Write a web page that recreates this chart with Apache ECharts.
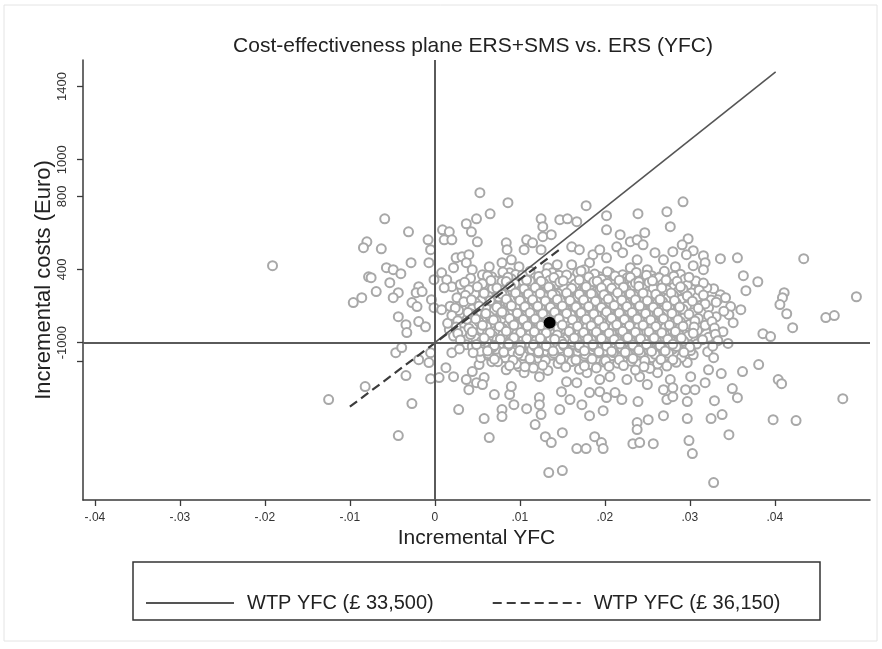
<!DOCTYPE html>
<html>
<head>
<meta charset="utf-8">
<script src="https://cdn.jsdelivr.net/npm/echarts@6/dist/echarts.min.js"></script>
<style>
  html, body { margin: 0; padding: 0; background: #fff; }
  #chart { width: 882px; height: 649px; }
</style>
</head>
<body>
<div id="chart"></div>
<script>
// Bootstrap replicates (incremental YFC, incremental cost in Euro), outer spread
const outerReplicates = [
  [.0053,820],[.0065,704],[-.0059,677],[-.0031,606],[.0037,650],[.0049,677],[.0043,606],[.0050,551],
  [.0009,617],[.0017,606],[.0011,562],[.0020,562],[-.0008,562],[-.0005,508],[-.0080,551],[-.0084,519],
  [-.0063,513],[.0025,464],[.0032,470],[.0040,481],[.0037,437],[.0044,399],[.0022,410],[.0064,415],
  [.0067,360],[.0056,371],[-.0028,437],[-.0007,437],[-.0057,410],[-.0049,399],[-.0040,377],[-.0078,360],
  [-.0075,355],[-.0053,328],[-.0001,344],[.0008,382],[.0014,344],[.0020,306],[.0011,300],[-.0019,306],
  [-.0022,273],[-.0015,279],[-.0069,279],[-.0043,273],[-.0049,246],[-.0086,246],[-.0096,219],[-.0027,219],
  [-.0021,197],[-.0004,235],[-.0001,191],[.0032,290],[.0037,235],[.0049,197],[.0067,290],[.0072,219],
  [-.0043,142],[-.0034,98],[-.0019,115],[-.0033,55],[-.0011,87],[.0008,180],[.0022,126],[.0017,71],
  [-.0191,421],
  [.0086,765],[.0178,749],[.0125,677],[.0127,634],[.0147,672],[.0156,677],[.0167,661],[.0202,694],
  [.0202,617],[.0239,705],[.0273,716],[.0277,634],[.0084,546],[.0085,508],[.0108,562],[.0115,546],
  [.0127,579],[.0137,590],[.0105,508],[.0125,508],[.0161,524],[.0170,508],[.0186,481],[.0218,590],
  [.0230,552],[.0238,562],[.0247,601],[.0245,535],[.0214,524],[.0221,492],[.0202,464],[.0194,508],
  [.0259,492],[.0269,453],[.0280,497],[.0283,415],[.0238,453],[.0250,399],[.0230,410],[.0182,437],
  [.0176,399],[.0161,426],[.0168,382],[.0079,437],[.0090,453],[.0099,415],[.0088,382],[.0079,344],
  [.0133,410],[.0144,426],[.0138,382],[.0123,360],[.0150,360],[.0194,360],[.0206,382],[.0218,360],
  [.0233,355],[.0253,344],[.0265,360],[.0277,344],[.0285,360],
  [.0292,770],[.0298,568],[.0291,535],[.0304,503],[.0296,481],[.0316,475],[.0318,437],[.0304,421],
  [.0316,399],[.0336,459],[.0356,464],[.0434,459],[.0363,366],[.0380,333],[.0366,284],[.0411,273],
  [.0409,246],[.0406,208],[.0496,251],[.0414,158],[.0421,82],[.0460,137],[.0470,148],[.0291,290],
  [.0303,290],[.0311,290],[.0328,295],[.0336,262],[.0292,219],[.0312,202],[.0322,191],[.0333,235],
  [.0342,246],[.0348,197],[.0360,180],[.0346,153],[.0351,109],[.0298,142],[.0304,126],[.0295,87],
  [.0312,82],[.0328,82],[.0328,44],[.0386,49],[.0395,33],[.0304,33],
  [-.0125,-311],[-.0082,-240],[-.0027,-333],[-.0043,-508],[-.0046,-55],[-.0039,-27],[-.0019,-93],
  [-.0007,-109],[-.0005,-55],[-.0034,-180],[-.0005,-197],[.0005,-191],[.0013,-137],[.0022,-186],
  [.0020,-55],[.0037,-202],[.0044,-158],[.0052,-120],[.0054,-82],[.0049,-219],[.0058,-191],
  [.0056,-229],[.0040,-257],[.0067,-104],[.0070,-284],[.0028,-366],[.0058,-415],[.0064,-519],
  [.0134,-710],[.0150,-699],[.0167,-579],[.0178,-579],[.0188,-514],[.0196,-546],[.0198,-579],
  [.0233,-552],[.0241,-546],[.0257,-552],[.0130,-514],[.0137,-546],[.0150,-492],[.0118,-448],
  [.0125,-393],[.0147,-366],[.0182,-399],[.0198,-372],[.0238,-437],[.0238,-475],[.0251,-421],
  [.0269,-399],[.0079,-366],[.0079,-404],[.0093,-339],[.0108,-361],[.0088,-284],[.0090,-240],
  [.0123,-300],[.0123,-339],[.0159,-311],[.0173,-339],[.0149,-268],[.0182,-273],[.0194,-268],
  [.0202,-300],[.0212,-273],[.0220,-311],[.0239,-322],[.0273,-311],[.0280,-295],[.0269,-257],
  [.0084,-148],[.0099,-131],[.0105,-164],[.0123,-186],[.0082,-82],[.0108,-55],[.0155,-213],
  [.0167,-219],[.0179,-164],[.0194,-202],[.0206,-186],[.0226,-202],[.0241,-186],[.0250,-229],
  [.0262,-164],[.0277,-202],[.0280,-246],
  [.0480,-306],[.0425,-426],[.0398,-421],[.0404,-202],[.0408,-224],[.0381,-120],[.0362,-158],
  [.0337,-169],[.0350,-251],[.0356,-301],[.0329,-317],[.0338,-393],[.0325,-415],[.0297,-415],
  [.0346,-503],[.0299,-535],[.0303,-606],[.0328,-765],[.0297,-322],[.0295,-257],[.0306,-257],
  [.0318,-219],[.0301,-186],[.0292,-55],[.0304,-66],[.0321,-49],[.0328,-82],[.0297,-109],[.0322,-148]
];

// Bootstrap replicates in the dense centre of the cloud
const coreReplicates = [
  [.0080,386],[.0095,372],[.0112,391],[.0131,377],[.0146,369],[.0172,392],[.0188,375],[.0203,388],[.0221,371],[.0237,384],[.0255,366],[.0270,390],[.0289,374],
  [.0042,352],[.0071,338],[.0090,349],[.0104,333],[.0118,356],[.0135,341],[.0160,351],[.0178,336],[.0196,347],[.0209,330],[.0226,353],[.0244,339],[.0259,350],[.0276,332],[.0294,346],[.0307,337],
  [.0030,318],[.0058,304],[.0081,315],[.0097,300],[.0110,321],[.0127,306],[.0141,316],[.0152,297],[.0169,312],[.0185,301],[.0201,319],[.0214,305],[.0232,313],[.0248,298],[.0262,317],[.0281,303],[.0297,314],[.0320,300],
  [.0047,268],[.0066,283],[.0088,271],[.0102,286],[.0116,264],[.0131,279],[.0145,269],[.0163,284],[.0177,266],[.0190,280],[.0207,270],[.0222,287],[.0238,265],[.0251,278],[.0268,268],[.0287,284],[.0302,272],
  [.0026,246],[.0055,232],[.0075,249],[.0093,236],[.0108,244],[.0122,229],[.0136,247],[.0150,233],[.0168,250],[.0181,238],[.0196,231],[.0212,248],[.0228,235],[.0243,245],[.0256,230],[.0274,243],[.0290,236],[.0309,249],[.0325,233],
  [.0018,199],[.0040,213],[.0063,202],[.0083,215],[.0098,196],[.0113,210],[.0129,200],[.0158,212],[.0174,197],[.0188,208],[.0203,194],[.0219,214],[.0233,203],[.0249,211],[.0265,195],[.0280,207],[.0296,199],[.0318,212],
  [.0028,176],[.0050,163],[.0070,178],[.0089,165],[.0104,174],[.0119,160],[.0134,177],[.0146,166],[.0164,172],[.0180,159],[.0193,179],[.0210,167],[.0224,175],[.0240,162],[.0255,171],[.0271,158],[.0287,176],[.0303,164],[.0340,172],
  [.0038,128],[.0059,142],[.0079,131],[.0096,144],[.0111,126],[.0126,139],[.0153,129],[.0171,143],[.0185,133],[.0200,141],[.0216,125],[.0230,138],[.0246,130],[.0261,145],[.0277,127],[.0294,140],[.0310,132],[.0331,141],
  [.0015,106],[.0045,93],[.0067,108],[.0086,96],[.0101,104],[.0117,91],[.0141,102],[.0159,95],[.0176,109],[.0191,92],[.0206,103],[.0221,97],[.0237,110],[.0252,94],[.0268,105],[.0284,90],[.0300,101],[.0318,95],
  [.0032,59],[.0055,72],[.0075,61],[.0093,70],[.0109,57],[.0124,68],[.0139,62],[.0150,74],[.0166,58],[.0183,69],[.0197,60],[.0213,73],[.0229,56],[.0244,67],[.0259,61],[.0275,71],[.0291,57],[.0309,66],[.0339,60],
  [.0022,36],[.0048,24],[.0068,38],[.0085,27],[.0100,33],[.0115,21],[.0132,35],[.0156,26],[.0173,39],[.0188,23],[.0204,34],[.0219,28],[.0235,37],[.0250,22],[.0266,31],[.0282,25],[.0298,36],[.0322,29],
  [.0037,-11],[.0061,2],[.0079,-8],[.0095,4],[.0108,-13],[.0123,-1],[.0140,-9],[.0162,3],[.0179,-12],[.0194,-2],[.0210,-10],[.0226,5],[.0241,-7],[.0257,1],[.0272,-14],[.0288,-3],[.0308,-8],[.0345,-4],
  [.0029,-34],[.0053,-47],[.0072,-36],[.0090,-49],[.0114,-38],[.0131,-45],[.0147,-33],[.0168,-48],[.0185,-37],[.0200,-44],[.0216,-32],[.0232,-46],[.0247,-39],[.0263,-50],[.0280,-35],[.0301,-43],
  [.0063,-70],[.0083,-82],[.0104,-72],[.0121,-85],[.0138,-69],[.0155,-80],[.0176,-74],[.0192,-86],[.0208,-71],[.0224,-79],[.0239,-68],[.0255,-83],[.0271,-73],[.0290,-81],
  [.0074,-104],[.0096,-117],[.0113,-108],[.0145,-114],[.0161,-103],[.0183,-119],[.0199,-106],[.0215,-112],[.0231,-101],[.0262,-116],[.0284,-107],
  [.0116,-139],[.0133,-152],[.0170,-146],[.0190,-138],[.0236,-150],[.0253,-141]
];

// Further replicates filling the gaps of the dense centre
const coreReplicatesB = [
  [.0062,365],[.0086,358],[.0103,368],[.0122,361],[.0140,356],[.0155,370],[.0181,359],[.0212,364],[.0230,357],[.0249,369],[.0264,355],[.0281,363],[.0299,358],
  [.0035,330],[.0056,322],[.0079,334],[.0094,324],[.0112,337],[.0128,326],[.0147,331],[.0165,321],[.0187,333],[.0203,323],[.0219,338],[.0236,325],[.0252,329],[.0268,320],[.0285,335],[.0316,326],
  [.0040,289],[.0068,296],[.0090,286],[.0105,295],[.0120,290],[.0136,298],[.0160,288],[.0176,294],[.0194,287],[.0208,297],[.0225,291],[.0241,285],[.0257,296],[.0273,289],[.0292,293],[.0311,287],
  [.0036,259],[.0063,254],[.0082,262],[.0098,252],[.0114,258],[.0128,255],[.0142,261],[.0157,251],[.0172,257],[.0186,263],[.0202,253],[.0218,260],[.0234,256],[.0250,262],[.0263,251],[.0281,258],[.0297,255],[.0316,260],
  [.0034,224],[.0048,218],[.0066,227],[.0086,220],[.0101,225],[.0116,217],[.0131,226],[.0143,219],[.0160,223],[.0176,216],[.0191,228],[.0206,221],[.0224,218],[.0237,226],[.0252,220],[.0268,224],[.0284,217],[.0303,227],[.0331,221],
  [.0024,190],[.0044,184],[.0060,192],[.0077,182],[.0095,189],[.0110,185],[.0124,193],[.0140,181],[.0152,188],[.0167,191],[.0184,183],[.0198,189],[.0215,186],[.0229,192],[.0244,180],[.0260,187],[.0276,191],[.0292,182],[.0310,188],
  [.0020,149],[.0044,155],[.0064,147],[.0082,157],[.0099,150],[.0115,154],[.0130,146],[.0142,156],[.0160,151],[.0176,148],[.0190,158],[.0206,146],[.0219,153],[.0235,149],[.0251,157],[.0266,147],[.0282,152],[.0299,155],[.0322,148],
  [.0027,120],[.0052,114],[.0072,122],[.0091,112],[.0106,119],[.0121,115],[.0134,123],[.0147,113],[.0165,118],[.0181,121],[.0196,111],[.0211,119],[.0226,116],[.0241,122],[.0257,112],[.0273,120],[.0289,114],[.0306,119],[.0326,115],
  [.0025,85],[.0040,79],[.0061,87],[.0080,78],[.0097,84],[.0112,80],[.0128,88],[.0145,77],[.0162,83],[.0179,86],[.0195,76],[.0210,84],[.0225,81],[.0240,87],[.0255,77],[.0271,83],[.0288,79],[.0305,86],[.0329,80],
  [.0027,50],[.0042,44],[.0062,52],[.0080,43],[.0096,49],[.0112,45],[.0128,53],[.0144,42],[.0160,48],[.0177,51],[.0192,41],[.0208,49],[.0224,46],[.0239,52],[.0255,43],[.0270,48],[.0287,44],[.0304,51],[.0330,46],
  [.0030,15],[.0055,9],[.0073,17],[.0090,8],[.0104,14],[.0119,10],[.0136,18],[.0149,7],[.0167,13],[.0184,16],[.0199,6],[.0214,14],[.0230,11],[.0246,17],[.0261,8],[.0277,13],[.0293,9],[.0315,16],[.0333,11],
  [.0044,-20],[.0068,-26],[.0086,-18],[.0102,-28],[.0118,-21],[.0135,-25],[.0152,-17],[.0170,-27],[.0187,-22],[.0203,-19],[.0220,-29],[.0236,-23],[.0251,-16],[.0267,-26],[.0284,-21],[.0300,-24],[.0327,-19],
  [.0045,-55],[.0063,-60],[.0081,-53],[.0098,-62],[.0122,-56],[.0140,-59],[.0158,-52],[.0177,-63],[.0193,-57],[.0210,-54],[.0227,-61],[.0242,-55],[.0259,-64],[.0275,-58],[.0293,-53],
  [.0070,-90],[.0092,-96],[.0112,-88],[.0130,-98],[.0148,-91],[.0166,-95],[.0185,-89],[.0201,-99],[.0217,-93],[.0233,-87],[.0247,-97],[.0266,-92],[.0280,-94],
  [.0088,-126],[.0106,-131],[.0127,-124],[.0154,-133],[.0176,-127],[.0205,-130],[.0222,-125],[.0246,-132],[.0273,-128]
];

// Replicates crowding the very centre, around the mean
const coreReplicatesC = [
  [.0066,340],[.0084,334],[.0108,342],[.0125,336],[.0151,339],[.0170,343],[.0191,335],[.0217,341],[.0240,333],[.0256,338],[.0272,342],
  [.0050,305],[.0073,299],[.0089,307],[.0118,301],[.0134,304],[.0161,298],[.0178,306],[.0196,300],[.0222,303],[.0240,308],[.0267,299],[.0289,305],
  [.0058,270],[.0079,264],[.0095,272],[.0110,266],[.0124,269],[.0138,263],[.0155,271],[.0170,265],[.0184,268],[.0199,262],[.0215,273],[.0230,267],[.0245,270],[.0260,264],[.0278,271],
  [.0043,235],[.0065,229],[.0084,237],[.0100,231],[.0115,234],[.0130,228],[.0144,236],[.0159,230],[.0175,233],[.0189,227],[.0204,238],[.0220,232],[.0236,235],[.0250,229],[.0265,236],[.0282,230],
  [.0052,200],[.0073,194],[.0090,202],[.0106,196],[.0121,199],[.0136,193],[.0150,201],[.0166,195],[.0181,198],[.0196,192],[.0211,203],[.0226,197],[.0241,200],[.0257,194],[.0273,201],[.0288,195],
  [.0039,165],[.0060,159],[.0079,167],[.0097,161],[.0112,164],[.0127,158],[.0141,166],[.0155,160],[.0172,163],[.0187,157],[.0202,168],[.0217,162],[.0232,165],[.0248,159],[.0263,166],[.0279,160],
  [.0048,130],[.0069,124],[.0088,132],[.0104,126],[.0118,129],[.0133,123],[.0146,131],[.0162,125],[.0178,128],[.0193,122],[.0208,133],[.0223,127],[.0238,130],[.0254,124],[.0269,131],[.0286,125],
  [.0056,95],[.0076,89],[.0093,97],[.0109,91],[.0125,94],[.0134,88],[.0150,96],[.0168,90],[.0184,93],[.0199,87],[.0214,98],[.0229,92],[.0245,95],[.0260,89],[.0276,96],[.0292,90],
  [.0044,60],[.0065,54],[.0084,62],[.0101,56],[.0117,59],[.0131,53],[.0158,61],[.0175,55],[.0190,58],[.0205,52],[.0221,63],[.0236,57],[.0252,60],[.0267,54],[.0283,61],
  [.0058,25],[.0077,19],[.0093,27],[.0108,21],[.0124,24],[.0141,18],[.0164,26],[.0180,20],[.0196,23],[.0211,17],[.0227,28],[.0242,22],[.0258,25],[.0274,19],[.0290,26],
  [.0049,-10],[.0070,-16],[.0087,-8],[.0101,-14],[.0116,-11],[.0131,-17],[.0151,-9],[.0170,-15],[.0186,-12],[.0202,-18],[.0218,-7],[.0233,-13],[.0249,-10],[.0265,-16],[.0280,-9],
  [.0062,-45],[.0081,-51],[.0100,-43],[.0122,-49],[.0139,-46],[.0157,-52],[.0176,-44],[.0193,-50],[.0208,-47],[.0224,-53],[.0240,-42],[.0255,-48],[.0271,-45]
];

// Mean incremental effect and cost
const meanPoint = [0.0135, 109];

// Willingness-to-pay threshold lines (segment end points)
const wtpSolid = [[0, 0], [0.0401, 1480]];
const wtpDashed = [[-0.01, -350], [0.015, 520]];
const legendNames = ['WTP YFC (£ 33,500)', 'WTP YFC (£ 36,150)'];

// Axis ticks and labels
const xTicks = [-0.04, -0.03, -0.02, -0.01, 0, 0.01, 0.02, 0.03, 0.04];
const yTicks = [-100, 0, 400, 800, 1000, 1400];
const yLabelValues = [0, 400, 800, 1000, 1400];
const yLabelText = ['-1000', '400', '800', '1000', '1400'];

const FONT = '"Liberation Sans", Arial, sans-serif';
const AXIS_COLOR = '#3a3a3a';

const chart = echarts.init(document.getElementById('chart'), null, { renderer: 'canvas' });

chart.setOption({
  backgroundColor: '#ffffff',
  animation: false,
  title: {
    text: 'Cost-effectiveness plane ERS+SMS vs. ERS (YFC)',
    left: 468,
    top: 31,
    textAlign: 'center',
    textStyle: { fontFamily: FONT, fontSize: 21, fontWeight: 'normal', color: '#222' }
  },
  grid: { left: 83, right: 12, top: 60, bottom: 149, containLabel: false },
  xAxis: {
    type: 'value',
    min: -0.0414,
    max: 0.0512,
    name: 'Incremental YFC',
    nameLocation: 'middle',
    nameGap: 28,
    nameMoveOverlap: false,
    nameTextStyle: { fontFamily: FONT, fontSize: 21, color: '#222' },
    axisLine: { onZero: false, lineStyle: { color: AXIS_COLOR, width: 1.5 } },
    axisTick: { customValues: xTicks, length: 6, lineStyle: { color: AXIS_COLOR, width: 1.3 } },
    axisLabel: {
      customValues: xTicks,
      margin: 12,
      fontFamily: FONT,
      fontSize: 12,
      color: '#333',
      formatter: v => {
        if (Math.abs(v) < 1e-9) return '0';
        return (v < 0 ? '-' : '') + Math.abs(v).toFixed(2).replace(/^0/, '');
      }
    },
    splitLine: { show: false }
  },
  yAxis: {
    type: 'value',
    min: -860,
    max: 1545,
    name: 'Incremental costs (Euro)',
    nameLocation: 'middle',
    nameGap: 28,
    nameMoveOverlap: false,
    nameTextStyle: { fontFamily: FONT, fontSize: 22, color: '#222' },
    axisLine: { onZero: false, lineStyle: { color: AXIS_COLOR, width: 1.5 } },
    axisTick: { customValues: yTicks, length: 6, lineStyle: { color: AXIS_COLOR, width: 1.3 } },
    axisLabel: {
      customValues: yLabelValues,
      rotate: 90,
      margin: 14,
      fontFamily: FONT,
      fontSize: 13,
      color: '#333',
      formatter: v => {
        const i = yLabelValues.indexOf(v);
        return i >= 0 ? yLabelText[i] : '';
      }
    },
    splitLine: { show: false }
  },
  legend: {
    data: legendNames.map(n => ({ name: n })),
    left: 140,
    top: 588,
    itemWidth: 88,
    itemHeight: 16,
    itemGap: 58,
    itemStyle: { opacity: 0 },
    textStyle: { fontFamily: FONT, fontSize: 20, color: '#222', padding: [0, 0, 0, 8] }
  },
  graphic: [
    {
      type: 'rect',
      silent: true,
      shape: { x: 133, y: 562, width: 687, height: 58 },
      style: { fill: 'none', stroke: '#333', lineWidth: 1.5 }
    },
    {
      type: 'rect',
      silent: true,
      z: -10,
      shape: { x: 4, y: 5, width: 873, height: 636 },
      style: { fill: 'none', stroke: '#e4e4e4', lineWidth: 1 }
    }
  ],
  series: [
    {
      name: 'replicates',
      type: 'scatter',
      data: outerReplicates.concat(coreReplicates, coreReplicatesB, coreReplicatesC),
      symbol: 'emptyCircle',
      symbolSize: 9,
      itemStyle: { color: '#a8a8a8', borderColor: '#a8a8a8', borderWidth: 1.8, opacity: 1 },
      silent: true,
      z: 2
    },
    {
      name: 'axes',
      type: 'line',
      data: [],
      silent: true,
      z: 3,
      markLine: {
        silent: true,
        symbol: ['none', 'none'],
        label: { show: false },
        lineStyle: { color: '#5a5a5a', width: 2, type: 'solid' },
        data: [{ xAxis: 0 }, { yAxis: 0 }]
      }
    },
    {
      name: legendNames[0],
      type: 'line',
      data: wtpSolid,
      symbol: 'none',
      lineStyle: { color: '#555', width: 1.6, type: 'solid' },
      itemStyle: { color: '#555' },
      silent: true,
      z: 4
    },
    {
      name: legendNames[1],
      type: 'line',
      data: wtpDashed,
      symbol: 'none',
      lineStyle: { color: '#3c3c3c', width: 2.2, type: [9, 5] },
      itemStyle: { color: '#3c3c3c' },
      silent: true,
      z: 4
    },
    {
      name: 'mean',
      type: 'scatter',
      data: [meanPoint],
      symbol: 'circle',
      symbolSize: 12,
      itemStyle: { color: '#000', opacity: 1 },
      silent: true,
      z: 5
    }
  ]
});
</script>
</body>
</html>
